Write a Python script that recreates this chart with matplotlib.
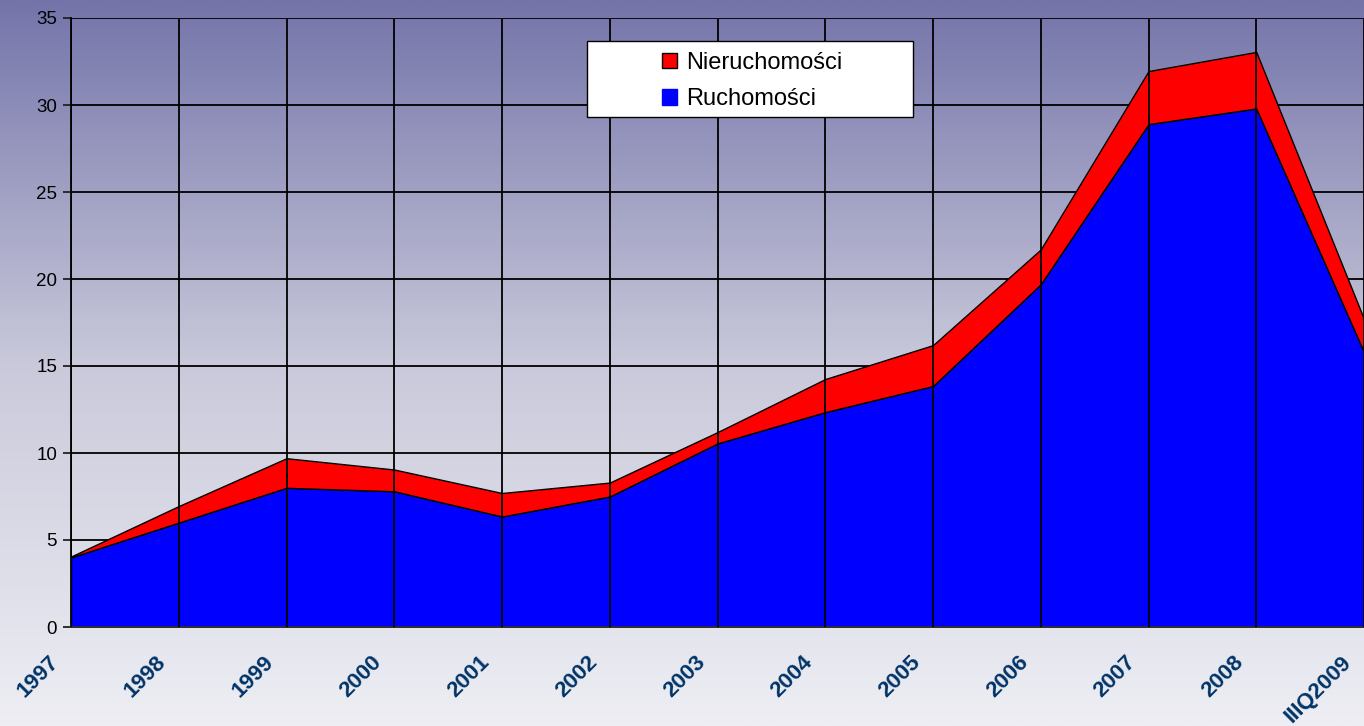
import numpy as np
import matplotlib.pyplot as plt
from matplotlib.colors import LinearSegmentedColormap
from matplotlib.patches import Patch, Rectangle
from matplotlib.transforms import ScaledTranslation

years = ['1997', '1998', '1999', '2000', '2001', '2002', '2003', '2004',
         '2005', '2006', '2007', '2008', 'IIIQ2009']
ruchomosci = [4.0, 6.0, 8.0, 7.8, 6.35, 7.5, 10.55, 12.35, 13.85, 19.7, 28.9, 29.8, 15.8]
nieruchomosci = [0.05, 0.95, 1.7, 1.25, 1.35, 0.8, 0.65, 1.9, 2.35, 2.0, 3.05, 3.25, 1.9]

plt.rcParams['font.family'] = ['Liberation Sans', 'DejaVu Sans']

fig = plt.figure(figsize=(13.64, 7.26), dpi=100)

# gradient background over the whole figure
bg = fig.add_axes([0, 0, 1, 1], zorder=-1)
cmap = LinearSegmentedColormap.from_list('bg', ['#eeeef4', '#c9c9db', '#7474aa'])
bg.imshow(np.linspace(0, 1, 256).reshape(-1, 1), aspect='auto', cmap=cmap,
          origin='lower', extent=[0, 1, 0, 1])
bg.axis('off')

ax = fig.add_axes([71 / 1364, 99 / 726, 1 - 71 / 1364, 609 / 726])
ax.patch.set_alpha(0)

x = np.arange(len(years))
ax.stackplot(x, ruchomosci, nieruchomosci, colors=['#0000ff', '#ff0000'],
             edgecolor='black', linewidth=1.0, zorder=2)

# vertical + horizontal grid
for xi in x:
    ax.axvline(xi, color='black', lw=1.3, zorder=3)
for yi in range(5, 36, 5):
    ax.axhline(yi, color='black', lw=1.3, zorder=1)

ax.set_xlim(0, 12)
ax.set_ylim(0, 35)
ax.set_yticks(range(0, 36, 5))
ax.tick_params(axis='y', labelsize=13.5, length=6, width=1.3, pad=4,
               color='#222222', labelcolor='black')
ax.set_xticks(x)
ax.set_xticklabels(years, rotation=45, ha='right', va='top', rotation_mode='anchor',
                   fontsize=16, fontweight='bold', color='#003366')
ax.tick_params(axis='x', length=0, pad=18)
shift = ScaledTranslation(-0.23, 0, fig.dpi_scale_trans)
for lbl in ax.get_xticklabels():
    lbl.set_transform(lbl.get_transform() + shift)

for side in ['top', 'right']:
    ax.spines[side].set_visible(False)
ax.spines['left'].set_linewidth(1.3)
ax.spines['bottom'].set_linewidth(1.3)
ax.spines['bottom'].set_color('#333333')

# legend: white box with the entries centred inside
box = Rectangle((587 / 1364, (726 - 117) / 726), 326 / 1364, 76 / 726,
                transform=fig.transFigure, facecolor='white', edgecolor='black',
                linewidth=1.0, zorder=4)
ax.add_artist(box)
box.set_clip_on(False)
handles = [Patch(facecolor='#ff0000', edgecolor='black', linewidth=1.0),
           Patch(facecolor='#0000ff', edgecolor='#0000ff')]
leg = ax.legend(handles, ['Nieruchomości', 'Ruchomości'], loc='center',
                bbox_to_anchor=(752 / 1364, (726 - 81) / 726),
                bbox_transform=fig.transFigure, fontsize=17, frameon=False,
                handlelength=0.65, handleheight=0.65, handletextpad=0.35,
                labelspacing=0.62, borderpad=0)
leg.set_zorder(5)

fig.savefig('out.png', dpi=100)
